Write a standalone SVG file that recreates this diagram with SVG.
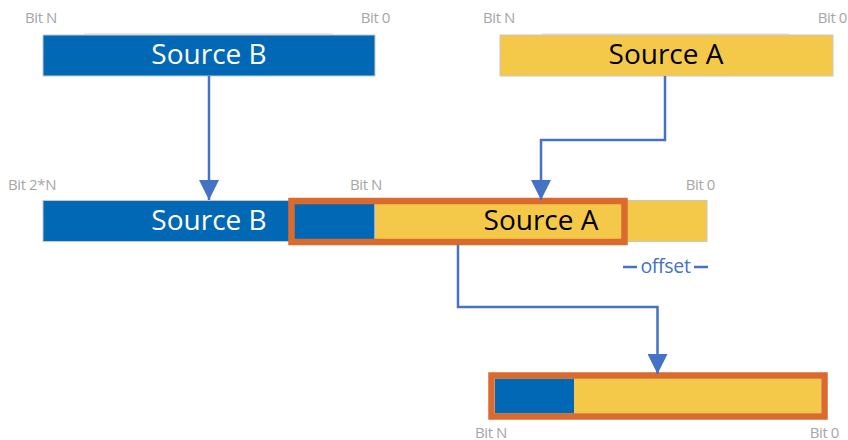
<svg xmlns="http://www.w3.org/2000/svg" width="848" height="440" viewBox="0 0 848 440">
  <style>
    .blue { fill: #0068B5; }
    .yellow { fill: #F4C94A; }
    .bar { stroke: #C8C8C8; stroke-width: 1; }
    .frame { fill: none; stroke: #DA6A2E; stroke-width: 6.5; }
    .bit { font-family: "Open Sans", "Noto Sans", sans-serif; font-size: 15px; fill: #A6A6A6; letter-spacing: -0.4px; }
    .title { font-family: "Open Sans", "Noto Sans", sans-serif; font-size: 28px; text-anchor: middle; }
    .light { fill: #FFFFFF; }
    .dark { fill: #000000; }
    .conn { fill: none; stroke: #4472C4; stroke-width: 2.5; }
    .rule { stroke: #D9D9D9; stroke-width: 1; }
  </style>
  <defs>
    <marker id="arrow" viewBox="0 0 10 10" refX="10" refY="5" markerWidth="8" markerHeight="8" markerUnits="strokeWidth" orient="auto">
      <path d="M0,0 L10,5 L0,10 Z" fill="#4472C4"/>
    </marker>
  </defs>

  <rect width="848" height="440" fill="#FFFFFF"/>

  <!-- Top row: the two source operands -->
  <g id="source-b">
    <line class="rule" x1="84" y1="34" x2="333" y2="34"/>
    <rect class="blue bar" x="43" y="35" width="332" height="41"/>
    <text class="title light" x="209" y="64">Source B</text>
    <text class="bit" x="25" y="23">Bit N</text>
    <text class="bit" x="390" y="23" text-anchor="end">Bit 0</text>
  </g>

  <g id="source-a">
    <line class="rule" x1="542" y1="34" x2="789" y2="34"/>
    <rect class="yellow bar" x="500" y="35" width="333" height="41"/>
    <text class="title dark" x="666" y="64">Source A</text>
    <text class="bit" x="483" y="23">Bit N</text>
    <text class="bit" x="847" y="23" text-anchor="end">Bit 0</text>
  </g>

  <!-- Middle row: concatenated 2N-bit value with the selected window -->
  <g id="concat">
    <rect class="blue bar" x="43" y="200.5" width="332" height="41"/>
    <rect class="yellow bar" x="375" y="200.5" width="332" height="41"/>
    <text class="title light" x="209" y="230">Source B</text>
    <text class="title dark" x="541" y="230">Source A</text>
    <text class="bit" x="8" y="190">Bit 2*N</text>
    <text class="bit" x="350" y="190">Bit N</text>
    <text class="bit" x="715" y="190" text-anchor="end">Bit 0</text>
  </g>

  <g id="window">
    <rect class="frame" x="291.5" y="201" width="333" height="41"/>
  </g>

  <g id="offset">
    <line x1="623" y1="267" x2="637" y2="267" stroke="#4472C4" stroke-width="2.5"/>
    <text x="665.5" y="273" text-anchor="middle" font-family="Open Sans, Noto Sans, sans-serif" font-size="19.5" fill="#4472C4" letter-spacing="-0.3">offset</text>
    <line x1="694" y1="267" x2="708" y2="267" stroke="#4472C4" stroke-width="2.5"/>
  </g>

  <!-- Bottom row: result -->
  <g id="result">
    <rect class="blue" x="495" y="378.5" width="79" height="35"/>
    <rect class="yellow" x="574" y="378.5" width="247" height="35"/>
    <rect class="frame" x="491.5" y="375.5" width="333" height="41"/>
    <text class="bit" x="475" y="437.5">Bit N</text>
    <text class="bit" x="839" y="437.5" text-anchor="end">Bit 0</text>
  </g>

  <!-- Connectors -->
  <g id="connectors">
    <path class="conn" d="M209,76 V200" marker-end="url(#arrow)"/>
    <path class="conn" d="M665,76 V140 H541 V200" marker-end="url(#arrow)"/>
    <path class="conn" d="M458,245 V307 H657.5 V374" marker-end="url(#arrow)"/>
  </g>
</svg>
